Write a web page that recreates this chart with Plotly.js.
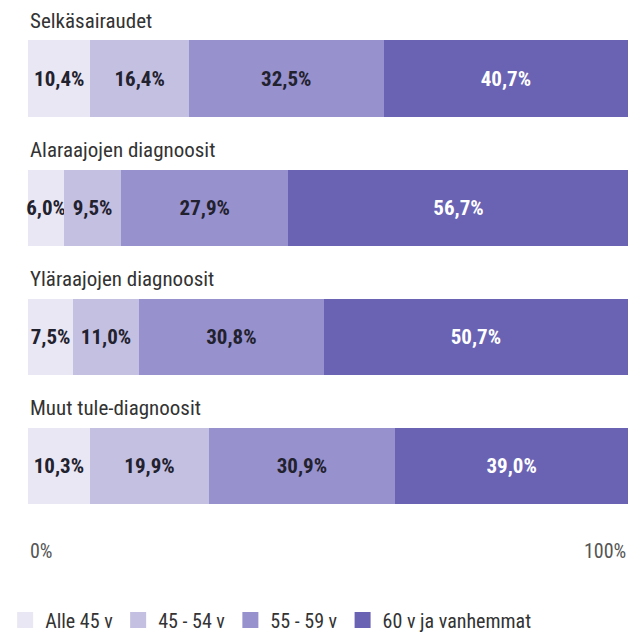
<!DOCTYPE html>
<html>
<head>
<meta charset="utf-8">
<script src="https://cdn.plot.ly/plotly-3.0.1.min.js"></script>
<style>html,body{margin:0;padding:0;background:#fff;}#chart{width:642px;height:636px;}</style>
</head>
<body>
<div id="chart"></div>
<script>
const categories = ["Selkäsairaudet", "Alaraajojen diagnoosit", "Yläraajojen diagnoosit", "Muut tule-diagnoosit"];
const seriesNames = ["Alle 45 v", "45 - 54 v", "55 - 59 v", "60 v ja vanhemmat"];
const alle45 = [10.4, 6.0, 7.5, 10.3];
const v45_54 = [16.4, 9.5, 11.0, 19.9];
const v55_59 = [32.5, 27.9, 30.8, 30.9];
const v60plus = [40.7, 56.7, 50.7, 39.0];
const axisTickLabels = ["0%", "100%"];

const FONT = '"Liberation Sans Narrow", "Roboto Condensed", Roboto, sans-serif';
const seriesValues = [alle45, v45_54, v55_59, v60plus];
const colors = ["#e9e7f3", "#c4c0e2", "#9791cd", "#6a63b4"];
const textColors = ["#22212e", "#22212e", "#22212e", "#ffffff"];
const fmt = v => v.toFixed(1).replace('.', ',') + '%';

const traces = seriesValues.map((vals, i) => ({
  type: 'bar',
  orientation: 'h',
  name: seriesNames[i],
  y: categories,
  x: vals,
  text: vals.map(fmt),
  textposition: 'inside',
  insidetextanchor: 'middle',
  textangle: 0,
  constraintext: 'none',
  textfont: {family: FONT, size: 21, color: textColors[i], weight: 700},
  marker: {color: colors[i], line: {width: 0}},
  width: 0.59,
  showlegend: false,
  hoverinfo: 'none'
}));

// legend-only entries with larger square swatches
seriesNames.forEach((n, i) => {
  traces.push({
    type: 'scatter', mode: 'markers', name: n,
    x: [null], y: [null],
    marker: {symbol: 'square', size: 16, color: colors[i]},
    showlegend: true, hoverinfo: 'none'
  });
});

const annotations = categories.map(c => ({
  xref: 'x', yref: 'y', x: 0, y: c, xanchor: 'left', yanchor: 'middle',
  yshift: 58, text: c, showarrow: false,
  font: {family: FONT, size: 21, color: '#333333'}
}));
annotations.push({xref: 'x', yref: 'paper', x: 0, y: 0, xanchor: 'left', yanchor: 'middle', yshift: -13,
  text: axisTickLabels[0], showarrow: false, font: {family: FONT, size: 20, color: '#555555'}});
annotations.push({xref: 'x', yref: 'paper', x: 100, y: 0, xanchor: 'right', yanchor: 'middle', yshift: -13,
  text: axisTickLabels[1], showarrow: false, font: {family: FONT, size: 20, color: '#555555'}});

const layout = {
  width: 642, height: 636,
  margin: {l: 20, r: 14, t: 14, b: 98, autoexpand: false},
  barmode: 'stack',
  bargap: 0,
  paper_bgcolor: '#ffffff', plot_bgcolor: '#ffffff',
  xaxis: {range: [-1.333, 100], showgrid: false, zeroline: false, showticklabels: false, fixedrange: true},
  yaxis: {type: 'category', categoryorder: 'array', categoryarray: categories, autorange: 'reversed', showgrid: false, zeroline: false, showticklabels: false, fixedrange: true},
  uniformtext: {minsize: 21, mode: 'show'},
  showlegend: true,
  legend: {orientation: 'h', xref: 'container', x: 0.008, xanchor: 'left', yref: 'container', y: 0.025, yanchor: 'middle',
    font: {family: FONT, size: 20, color: '#333333'}, traceorder: 'normal', itemwidth: 30},
  annotations: annotations
};

Plotly.newPlot('chart', traces, layout, {displayModeBar: false, staticPlot: true});
</script>
</body>
</html>
